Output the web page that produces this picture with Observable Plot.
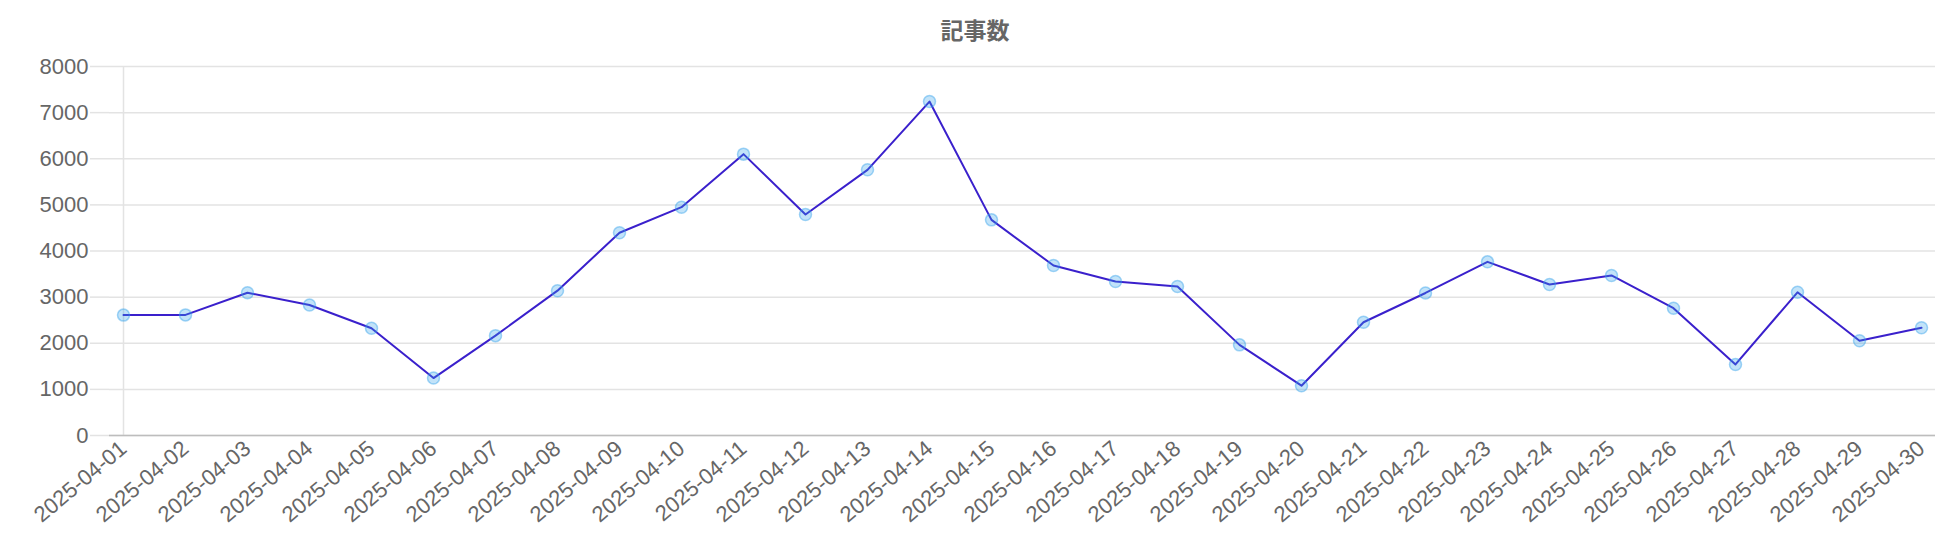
<!DOCTYPE html>
<html>
<head>
<meta charset="utf-8">
<script src="https://cdn.jsdelivr.net/npm/d3@7"></script>
<script src="https://cdn.jsdelivr.net/npm/@observablehq/plot@0.6"></script>
<style>
  html, body { margin: 0; padding: 0; background: #fff; }
  #title {
    width: 1950px; height: 50px; box-sizing: border-box; padding-top: 18px;
    text-align: center; font-family: "Noto Sans CJK JP", "Noto Sans", sans-serif;
    font-weight: bold; font-size: 23px; line-height: 23px; color: #666;
  }
  #chart svg { display: block; }
</style>
</head>
<body>
<div id="title">記事数</div>
<div id="chart"></div>
<script>
const dates = [
  "2025-04-01","2025-04-02","2025-04-03","2025-04-04","2025-04-05","2025-04-06",
  "2025-04-07","2025-04-08","2025-04-09","2025-04-10","2025-04-11","2025-04-12",
  "2025-04-13","2025-04-14","2025-04-15","2025-04-16","2025-04-17","2025-04-18",
  "2025-04-19","2025-04-20","2025-04-21","2025-04-22","2025-04-23","2025-04-24",
  "2025-04-25","2025-04-26","2025-04-27","2025-04-28","2025-04-29","2025-04-30"
];
const counts = [
  2610, 2615, 3095, 2830, 2325, 1245,
  2165, 3140, 4395, 4950, 6100, 4790,
  5760, 7240, 4675, 3685, 3340, 3230,
  1965, 1080, 2455, 3090, 3765, 3275,
  3470, 2760, 1540, 3105, 2055, 2335
];
const yTicks = [0, 1000, 2000, 3000, 4000, 5000, 6000, 7000, 8000];

const data = dates.map((d, i) => ({date: d, value: counts[i]}));

const fontFamily = '"Helvetica Neue", Helvetica, Arial, "Liberation Sans", sans-serif';

const chart = Plot.plot({
  width: 1950,
  height: 490,
  marginTop: 16,
  marginBottom: 105,
  marginLeft: 109,
  marginRight: 15,
  style: { fontFamily, fontSize: "22px", color: "#666", background: "#fff" },
  x: { type: "point", domain: dates, padding: 0 },
  y: { domain: [0, 8000] },
  marks: [
    Plot.gridY(yTicks, { stroke: "#e3e3e3", strokeOpacity: 1, strokeWidth: 1.5 }),
    Plot.ruleX([dates[0]], { stroke: "#e3e3e3", strokeWidth: 1.5 }),
    Plot.ruleY([0], { stroke: "#bdbdbd", strokeWidth: 1.5 }),
    Plot.axisY(yTicks, {
      tickSize: 19, tickPadding: 2, stroke: "#e3e3e3", strokeWidth: 1.5,
      fill: "#666", fontSize: 22, label: null, tickFormat: d => String(d)
    }),
    Plot.axisX(dates, {
      tickSize: 0, tickPadding: 10, tickRotate: -40, fontSize: 22,
      fill: "#666", label: null
    }),
    Plot.line(data, { x: "date", y: "value", stroke: "#3a20cc", strokeWidth: 2 }),
    Plot.dot(data, {
      x: "date", y: "value", r: 6,
      fill: "rgba(54,162,235,0.3)", stroke: "rgba(54,162,235,0.45)", strokeWidth: 1.5
    })
  ]
});
document.getElementById("chart").appendChild(chart);
</script>
</body>
</html>
